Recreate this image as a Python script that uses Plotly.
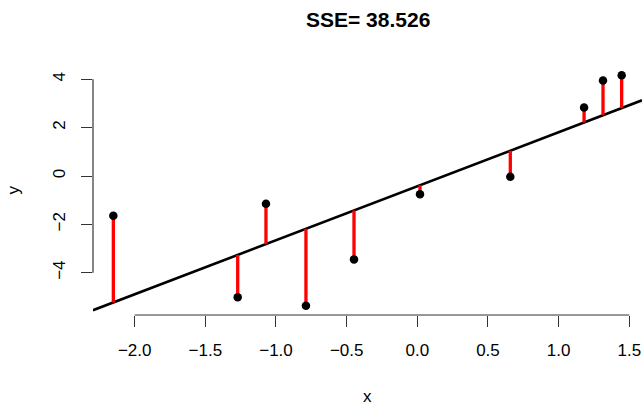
import plotly.graph_objects as go

# Data
x_vals = [-2.151, -1.271, -1.071, -0.788, -0.448, 0.019, 0.658, 1.180, 1.314, 1.446]
y_vals = [-1.644, -5.020, -1.147, -5.370, -3.450, -0.758, -0.030, 2.830, 3.950, 4.170]
intercept = -0.424
slope = 2.236
title_text = "SSE= 38.526"
x_ticks = [-2.0, -1.5, -1.0, -0.5, 0.0, 0.5, 1.0, 1.5]
y_ticks = [-4, -2, 0, 2, 4]

# R-style axis ranges (4% padding)
def pad(v):
    lo, hi = min(v), max(v)
    s = hi - lo
    return [lo - 0.04 * s, hi + 0.04 * s]

xr = pad(x_vals)
yr = pad(y_vals)

FONT = "Liberation Sans, Arial, sans-serif"

fig = go.Figure()

# fitted line
fig.add_trace(go.Scatter(
    x=xr, y=[intercept + slope * v for v in xr],
    mode="lines", line=dict(color="black", width=2.6), hoverinfo="skip"))

# residual segments
sx, sy = [], []
for xv, yv in zip(x_vals, y_vals):
    sx += [xv, xv, None]
    sy += [yv, intercept + slope * xv, None]
fig.add_trace(go.Scatter(x=sx, y=sy, mode="lines",
                         line=dict(color="#ff0000", width=3.3), hoverinfo="skip"))

# points
fig.add_trace(go.Scatter(x=x_vals, y=y_vals, mode="markers",
                         marker=dict(color="black", size=8.5), hoverinfo="skip"))

axis_col = "#333333"
# R-style axis lines spanning first..last tick
fig.add_shape(type="line", xref="x", yref="paper", x0=x_ticks[0], x1=x_ticks[-1],
              y0=0, y1=0, line=dict(color=axis_col, width=1.2))
fig.add_shape(type="line", xref="paper", yref="y", x0=0, x1=0,
              y0=y_ticks[0], y1=y_ticks[-1], line=dict(color=axis_col, width=1.2))

fig.update_layout(
    width=643, height=402,
    margin=dict(l=93, r=1, t=66, b=87),
    paper_bgcolor="white", plot_bgcolor="white",
    showlegend=False,
    font=dict(family=FONT, size=17, color="black"),
    xaxis=dict(range=xr, tickvals=x_ticks, tickformat=".1f", ticks="outside",
               ticklen=11, tickwidth=1.2, tickcolor=axis_col, showgrid=False,
               zeroline=False, showline=False, automargin=False,
               ticklabelstandoff=9),
    yaxis=dict(range=yr, tickvals=y_ticks, ticks="outside", tickangle=-90,
               ticklen=11, tickwidth=1.2, tickcolor=axis_col, showgrid=False,
               zeroline=False, showline=False, automargin=False,
               ticklabelstandoff=9),
    annotations=[
        dict(text="<b>" + title_text + "</b>", xref="paper", yref="paper",
             x=0.5, y=1, yshift=47, showarrow=False, xanchor="center",
             yanchor="middle", font=dict(size=21, family=FONT)),
        dict(text="x", xref="paper", yref="paper", x=0.5, y=0, yshift=-81,
             showarrow=False, xanchor="center", yanchor="middle",
             font=dict(size=17, family=FONT)),
        dict(text="y", xref="paper", yref="paper", x=0, y=0.5, xshift=-80,
             showarrow=False, xanchor="center", yanchor="middle", textangle=-90,
             font=dict(size=17, family=FONT)),
    ],
)

fig.write_html("out.html")
